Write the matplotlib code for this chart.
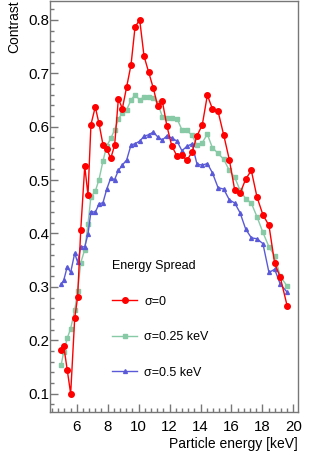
import matplotlib
matplotlib.use("Agg")
import matplotlib.pyplot as plt
from matplotlib.ticker import MultipleLocator

plt.rcParams['font.family'] = ['Liberation Sans', 'DejaVu Sans']

energy = [4.99, 5.16, 5.39, 5.61, 5.87, 6.06, 6.26, 6.52, 6.73, 6.92,
          7.20, 7.44, 7.70, 7.94, 8.20, 8.45, 8.69, 8.95, 9.23, 9.51,
          9.77, 10.07, 10.35, 10.65, 10.95, 11.23, 11.53, 11.83, 12.14, 12.48,
          12.80, 13.11, 13.45, 13.77, 14.11, 14.44, 14.76, 15.13, 15.50, 15.86,
          16.21, 16.55, 16.92, 17.28, 17.65, 18.03, 18.42, 18.79, 19.15, 19.60]

contrast_s0 = [0.181, 0.190, 0.144, 0.100, 0.241, 0.281, 0.406, 0.526, 0.472, 0.604,
               0.637, 0.606, 0.566, 0.558, 0.541, 0.565, 0.652, 0.634, 0.675, 0.716,
               0.787, 0.800, 0.732, 0.702, 0.672, 0.639, 0.648, 0.601, 0.564, 0.545,
               0.547, 0.537, 0.552, 0.583, 0.603, 0.659, 0.634, 0.629, 0.584, 0.538,
               0.481, 0.475, 0.502, 0.518, 0.468, 0.435, 0.415, 0.344, 0.318, 0.264]

contrast_s025 = [0.153, 0.178, 0.204, 0.222, 0.256, 0.292, 0.345, 0.370, 0.418, 0.469,
                 0.479, 0.501, 0.536, 0.564, 0.578, 0.594, 0.614, 0.626, 0.632, 0.650,
                 0.660, 0.650, 0.656, 0.656, 0.654, 0.644, 0.619, 0.616, 0.617, 0.615,
                 0.594, 0.593, 0.584, 0.565, 0.570, 0.586, 0.561, 0.550, 0.539, 0.518,
                 0.505, 0.481, 0.465, 0.457, 0.431, 0.402, 0.375, 0.358, 0.320, 0.301]

contrast_s05 = [0.305, 0.312, 0.338, 0.327, 0.363, 0.346, 0.375, 0.375, 0.399, 0.441,
                0.440, 0.455, 0.458, 0.483, 0.504, 0.501, 0.518, 0.528, 0.538, 0.566,
                0.568, 0.573, 0.582, 0.585, 0.590, 0.581, 0.575, 0.583, 0.579, 0.573,
                0.555, 0.563, 0.568, 0.530, 0.528, 0.531, 0.514, 0.486, 0.483, 0.463,
                0.457, 0.439, 0.408, 0.392, 0.390, 0.381, 0.327, 0.333, 0.305, 0.290]

labels = ["σ=0", "σ=0.25 keV", "σ=0.5 keV"]
legend_title = "Energy Spread"
x_label = "Particle energy [keV]"
y_label = "Contrast"

fig = plt.figure(figsize=(3.32, 4.55), dpi=100)
ax = fig.add_axes([50/332, 1-412/455, 248/332, 411/455])

red = "#ff0000"
green = "#88c9a6"
blue = "#5a5ad8"

ax.plot(energy, contrast_s0, color=red, lw=1.0, marker='o', ms=4.0,
        mec=red, mfc=red, label=labels[0], zorder=3)
ax.plot(energy, contrast_s025, color=green, lw=1.0, marker='s', ms=2.3,
        mec=green, mfc=green, label=labels[1], zorder=2)
ax.plot(energy, contrast_s05, color=blue, lw=1.0, marker='^', ms=2.8,
        mec=blue, mfc=blue, label=labels[2], zorder=2)

fc = "#777777"
for s in ax.spines.values():
    s.set_color(fc)
    s.set_linewidth(1.0)

ax.xaxis.set_major_locator(MultipleLocator(2))
ax.xaxis.set_minor_locator(MultipleLocator(0.4))
ax.yaxis.set_major_locator(MultipleLocator(0.1))
ax.yaxis.set_minor_locator(MultipleLocator(0.02))

ax.tick_params(axis='both', which='both', direction='in', color=fc,
               top=False, right=False, labelsize=10.8, width=1.0)
ax.tick_params(axis='both', which='major', length=6)
ax.tick_params(axis='both', which='minor', length=3)
ax.tick_params(axis='y', which='major', pad=0.5)
ax.tick_params(axis='x', which='major', pad=5.5)

ax.set_xlim(4.275, 20.296)
ax.set_ylim(0.0657, 0.8354)
ax.xaxis.set_major_formatter(lambda v, p: f"{v:.0f}")
ax.yaxis.set_major_formatter(lambda v, p: f"{v:.1f}")

fig.text(298/332, 1-444/455, x_label, ha='right', va='center', fontsize=10.0)
fig.text(14/332, 1-0.5/455, y_label, ha='center', va='top', rotation=90, fontsize=10.0)

leg = ax.legend(title=legend_title, loc='upper left',
                bbox_to_anchor=(106/332, 1-254/455), bbox_transform=fig.transFigure,
                frameon=False, fontsize=9.0, title_fontsize=9.0,
                handlelength=2.0, handletextpad=0.55, labelspacing=1.88,
                borderpad=0, alignment='left')

fig.savefig("out.png", dpi=100)
